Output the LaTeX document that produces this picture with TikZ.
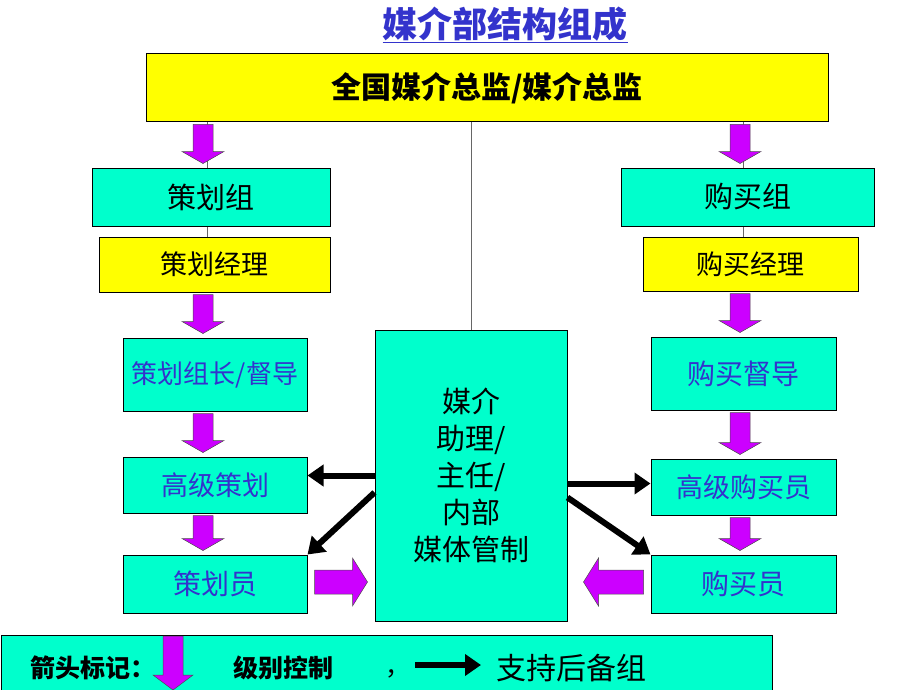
\documentclass[tikz,border=0pt]{standalone}
\usepackage{fontspec}
\setmainfont{Noto Sans CJK SC}
\usetikzlibrary{arrows.meta, positioning, calc}
\definecolor{boxcyan}{RGB}{0,255,204}
\definecolor{boxyellow}{RGB}{255,255,0}
\definecolor{lvlpurple}{RGB}{204,0,255}
\definecolor{textblue}{RGB}{51,51,204}
% fat block arrow: #1 start, #2 tip, #3 half shaft, #4 half head, #5 head length
\newcommand{\fatarrow}[5]{%
  \coordinate (fa-b) at ($(#2)!#5!(#1)$);
  \filldraw[lvl] ($(#1)!#3!90:(#2)$) -- ($(fa-b)!#3!-90:(#1)$) -- ($(fa-b)!#4!-90:(#1)$)
    -- (#2) -- ($(fa-b)!#4!90:(#1)$) -- ($(fa-b)!#3!90:(#1)$) -- ($(#1)!#3!-90:(#2)$) -- cycle;}

\begin{document}
\begin{tikzpicture}[x=1pt, y=-1pt,
    every node/.style={inner sep=0pt},
    cyanbox/.style={rectangle, draw=black, line width=1pt, fill=boxcyan},
    yellowbox/.style={rectangle, draw=black, line width=1pt, fill=boxyellow},
    lvl/.style={fill=lvlpurple, draw=black!70, line width=0.5pt},
    support/.style={line width=6pt, -{Triangle[length=16pt,width=21pt]}},
    thinline/.style={draw=black!60, line width=0.6pt},
]
\useasboundingbox (0,0) rectangle (920,690);
\node[font=\fontsize{35}{38}\selectfont\bfseries, text=textblue] (title) at (505,25) {\underline{媒介部结构组成}};
% boxes
\node[yellowbox, minimum width=682, minimum height=68, font=\fontsize{30}{32}\selectfont\bfseries] (top) at (487,88) {全国媒介总监/媒介总监};
\node[cyanbox, minimum width=192, minimum height=291, align=center, font=\fontsize{29}{37}\selectfont] (media) at (471,475.5) {媒介\\助理/\\主任/\\内部\\媒体管制};
\draw[thinline] (top.south -| media.north) -- (media.north);
\draw[thinline] (207,122) -- (207,237);
\draw[thinline] (743,122) -- (743,237);
% planning column
\node[cyanbox, minimum width=238, minimum height=58, font=\fontsize{29}{31}\selectfont] (plangrp) at (211,197) {策划组};
\node[yellowbox, minimum width=231, minimum height=55, font=\fontsize{27}{29}\selectfont] (planmgr) at (214.5,264.5) {策划经理};
\node[cyanbox, minimum width=184, minimum height=73, font=\fontsize{26}{28}\selectfont, text=textblue] (planlead) at (215,374.5) {策划组长/督导};
\node[cyanbox, minimum width=184, minimum height=56, font=\fontsize{27}{29}\selectfont, text=textblue] (plansenior) at (215,485) {高级策划};
\node[cyanbox, minimum width=184, minimum height=58, font=\fontsize{28}{30}\selectfont, text=textblue] (planner) at (215,584) {策划员};
% buying column
\node[cyanbox, minimum width=253, minimum height=58, font=\fontsize{29}{31}\selectfont] (buygrp) at (747.5,197) {购买组};
\node[yellowbox, minimum width=215, minimum height=54, font=\fontsize{27}{29}\selectfont] (buymgr) at (750.5,264) {购买经理};
\node[cyanbox, minimum width=185, minimum height=73, font=\fontsize{28}{30}\selectfont, text=textblue] (buylead) at (743.5,373.5) {购买督导};
\node[cyanbox, minimum width=185, minimum height=56, font=\fontsize{27}{29}\selectfont, text=textblue] (buysenior) at (743.5,487) {高级购买员};
\node[cyanbox, minimum width=185, minimum height=58, font=\fontsize{28}{30}\selectfont, text=textblue] (buyer) at (743.5,584) {购买员};
% level control arrows
\foreach \a/\b/\x in {top/plangrp/203, planmgr/planlead/203, planlead/plansenior/203, plansenior/planner/203,
                      top/buygrp/740, buymgr/buylead/740, buylead/buysenior/740, buysenior/buyer/740} {
  \coordinate (s) at ($(\x,0 |- \a.south)+(0,2)$);
  \coordinate (t) at ($(\x,0 |- \b.north)+(0,-4)$);
  \fatarrow{s}{t}{10pt}{21pt}{12pt}
}
% support arrows
\coordinate (sl) at ($(planner.east)+(7,-2)$);
\coordinate (tl) at ($(planner.east -| media.west)+(-7,-2)$);
\fatarrow{sl}{tl}{12pt}{24pt}{15pt}
\coordinate (sr) at ($(buyer.west)+(-7,-2)$);
\coordinate (tr) at ($(buyer.west -| media.east)+(16,-2)$);
\fatarrow{sr}{tr}{12pt}{24pt}{15pt}
\draw[support] (media.west) -- (media.west -| plansenior.east);
\draw[support] ([yshift=-17pt]media.west) -- (planner.north east);
\draw[support] ([yshift=-8pt]media.east) -- ([yshift=-8pt]media.east -| buysenior.west);
\draw[support] ([yshift=-22pt]media.east) -- (buyer.north west);
% legend
\node[cyanbox, anchor=north west, minimum width=771, minimum height=70] (legend) at (1,635) {};
\node[anchor=west, font=\fontsize{25}{27}\selectfont\bfseries] (legarrow) at (30,668) {箭头标记：};
\coordinate (lvla) at (173,636);
\coordinate (lvlb) at (173,690);
\fatarrow{lvla}{lvlb}{10pt}{20pt}{15pt}
\node[anchor=west, font=\fontsize{25}{27}\selectfont\bfseries] (leglvl) at (233,668) {级别控制};
\node[anchor=west, font=\fontsize{25}{27}\selectfont] (legcomma) at (385,674) {，};
\coordinate (supa) at (415,665);
\coordinate (supb) at (481,665);
\draw[support] (supa) -- (supb);
\node[anchor=west, font=\fontsize{30}{32}\selectfont] (legsup) at (496,668) {支持后备组};
\end{tikzpicture}
\end{document}
